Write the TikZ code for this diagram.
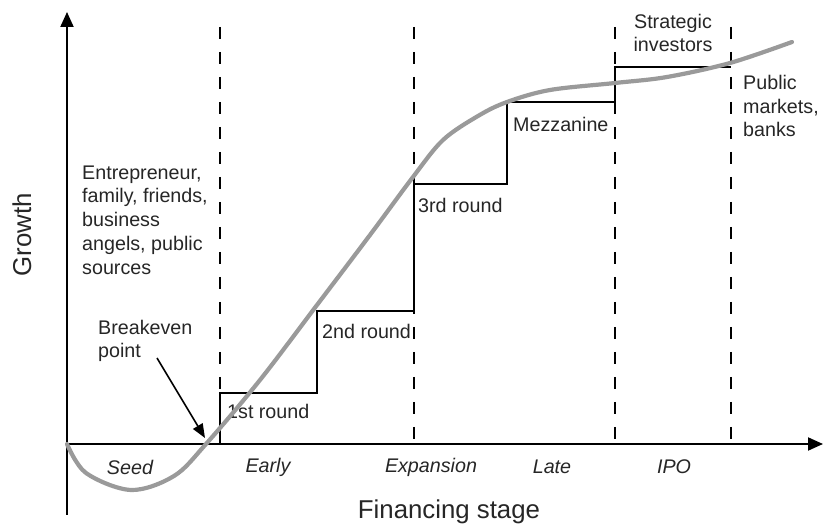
\documentclass[tikz,border=0pt]{standalone}
\usepackage{fontspec}
\setmainfont{Liberation Sans}
\usetikzlibrary{arrows.meta}
\definecolor{curvegray}{HTML}{9A9A9A}
\tikzset{
  axisline/.style={line width=2pt,-{Triangle[length=15pt,width=13pt]}},
  stageline/.style={line width=2pt,dash pattern=on 12pt off 13pt},
  stepline/.style={line width=1.9pt,line join=miter},
  growthcurve/.style={line width=4.2pt,curvegray,line cap=round},
  lbl/.style={font=\fontsize{19.7}{23.7}\selectfont,inner sep=0pt,text=black!85},
  stagelbl/.style={lbl,font=\fontsize{19.7}{23.7}\selectfont\itshape},
  biglbl/.style={font=\fontsize{25.8}{28}\selectfont,inner sep=0pt,text=black!85},
  pointer/.style={line width=1.6pt,-{Triangle[length=14pt,width=11pt]}}
}
\begin{document}
\begin{tikzpicture}[x=1pt,y=-1pt]
\useasboundingbox (0,0) rectangle (823,529);
% axes
\coordinate (ybot) at (67,515);
\coordinate (ytop) at (67,12);
\coordinate (orig) at (65,444);
\coordinate (xend) at (823,444);
\draw[axisline] (ybot) -- (ytop);
\draw[axisline] (orig) -- (xend);
% dashed stage boundaries
\foreach \x/\n in {220/a,414/b,615/c,731/d}{
  \coordinate (t\n) at (\x,27);
  \coordinate (b\n) at (\x,444);
  \draw[stageline] (t\n) -- (b\n);
}
% financing steps
\draw[stepline] (220,444) -- (220,393) -- (317,393) -- (317,311) -- (414,311)
  -- (414,184) -- (507,184) -- (507,102) -- (615,102) -- (615,67) -- (731,67);
% labels
\node[lbl,anchor=west,align=left] (fam) at (82,220) {Entrepreneur,\\family, friends,\\business\\angels, public\\sources};
\node[lbl,anchor=west,align=left] (breakeven) at (98,341) {Breakeven\\point};
\node[lbl,anchor=west] (r1) at (227,411) {1st round};
\node[lbl,anchor=west] (r2) at (322,331) {2nd round};
\node[lbl,anchor=west] (r3) at (418,205) {3rd round};
\node[lbl,anchor=west] (mezz) at (513,124) {Mezzanine};
\node[lbl,align=center] (strat) at (673,33) {Strategic\\investors};
\node[lbl,anchor=west,align=left] (pub) at (743,106) {Public\\markets,\\banks};
\node[stagelbl] (seed) at (130,467) {Seed};
\node[stagelbl] (early) at (268,467) {Early};
\node[stagelbl] (exp) at (431,467) {Expansion};
\node[stagelbl] (late) at (552,467) {Late};
\node[stagelbl] (ipo) at (674,467) {IPO};
\node[biglbl] (xlab) at (449,512) {Financing stage};
\node[biglbl,rotate=90] (ylab) at (22,235) {Growth};
% growth curve
\draw[growthcurve] plot[smooth,tension=0.55] coordinates {
 (67,444) (86,473) (131,490) (174,476) (206,444) (260,380) (317,305)
 (370,235) (413,177) (443,140) (478,116) (507,102) (550,90) (615,83)
 (667,77) (730,63) (792,42)};
% breakeven pointer
\coordinate (bep) at (205,438);
\draw[pointer] (157,358) -- (bep);
\end{tikzpicture}
\end{document}
